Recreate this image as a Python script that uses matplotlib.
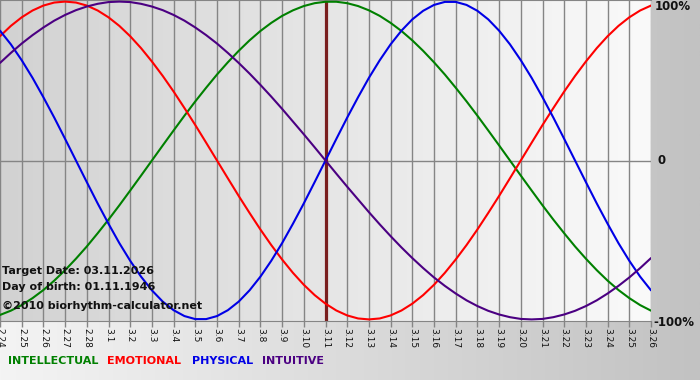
import numpy as np
import matplotlib
matplotlib.use("Agg")
import matplotlib.pyplot as plt
from matplotlib.colors import LinearSegmentedColormap

# ---- data ----
day_labels = ["2.24", "2.25", "2.26", "2.27", "2.28", "3.1", "3.2", "3.3", "3.4", "3.5",
              "3.6", "3.7", "3.8", "3.9", "3.10", "3.11", "3.12", "3.13", "3.14", "3.15",
              "3.16", "3.17", "3.18", "3.19", "3.20", "3.21", "3.22", "3.23", "3.24", "3.25", "3.26"]

# values read every half day (from 2.24 to 3.26), as fraction of 100%
physical = [0.817, 0.731, 0.631, 0.520, 0.398, 0.270, 0.136, 0.000, -0.136, -0.270,
            -0.398, -0.520, -0.631, -0.731, -0.817, -0.888, -0.942, -0.979, -0.998, -0.998,
            -0.979, -0.942, -0.888, -0.817, -0.731, -0.631, -0.520, -0.398, -0.270, -0.136,
            0.000, 0.136, 0.270, 0.398, 0.520, 0.631, 0.731, 0.817, 0.888, 0.942,
            0.979, 0.998, 0.998, 0.979, 0.942, 0.888, 0.817, 0.731, 0.631, 0.520,
            0.398, 0.270, 0.136, 0.000, -0.136, -0.270, -0.398, -0.520, -0.631, -0.731, -0.817]

emotional = [0.782, 0.847, 0.901, 0.944, 0.975, 0.994, 1.000, 0.994, 0.975, 0.944,
             0.901, 0.847, 0.782, 0.707, 0.623, 0.532, 0.434, 0.330, 0.223, 0.112,
             0.000, -0.112, -0.223, -0.330, -0.434, -0.532, -0.623, -0.707, -0.782, -0.847,
             -0.901, -0.944, -0.975, -0.994, -1.000, -0.994, -0.975, -0.944, -0.901, -0.847,
             -0.782, -0.707, -0.623, -0.532, -0.434, -0.330, -0.223, -0.112, 0.000, 0.112,
             0.223, 0.330, 0.434, 0.532, 0.623, 0.707, 0.782, 0.847, 0.901, 0.944, 0.975]

intellectual = [-0.972, -0.945, -0.910, -0.866, -0.815, -0.756, -0.690, -0.618, -0.541, -0.458,
                -0.372, -0.282, -0.189, -0.095, 0.000, 0.095, 0.189, 0.282, 0.372, 0.458,
                0.541, 0.618, 0.690, 0.756, 0.815, 0.866, 0.910, 0.945, 0.972, 0.990,
                0.999, 0.999, 0.990, 0.972, 0.945, 0.910, 0.866, 0.815, 0.756, 0.690,
                0.618, 0.541, 0.458, 0.372, 0.282, 0.189, 0.095, 0.000, -0.095, -0.189,
                -0.282, -0.372, -0.458, -0.541, -0.618, -0.690, -0.756, -0.815, -0.866, -0.910, -0.945]

intuitive = [0.614, 0.677, 0.736, 0.789, 0.837, 0.880, 0.916, 0.946, 0.969, 0.986,
             0.997, 1.000, 0.997, 0.986, 0.969, 0.946, 0.916, 0.880, 0.837, 0.789,
             0.736, 0.677, 0.614, 0.547, 0.476, 0.402, 0.325, 0.245, 0.165, 0.083,
             0.000, -0.083, -0.165, -0.245, -0.325, -0.402, -0.476, -0.547, -0.614, -0.677,
             -0.736, -0.789, -0.837, -0.880, -0.916, -0.946, -0.969, -0.986, -0.997, -1.000,
             -0.997, -0.986, -0.969, -0.946, -0.916, -0.880, -0.837, -0.789, -0.736, -0.677, -0.614]

samples_per_day = 2
target_index = 15
target_text = "Target Date: 03.11.2026"
birth_text = "Day of birth: 01.11.1946"
copyright_text = "\u00a92010 biorhythm-calculator.net"
series_names = ["INTELLECTUAL", "EMOTIONAL", "PHYSICAL", "INTUITIVE"]

# ---- styling ----
W, H = 700, 380
fig = plt.figure(figsize=(W / 100, H / 100), dpi=100)

bg = fig.add_axes([0, 0, 1, 1], zorder=0)
bg.set_axis_off()
cmap_bg = LinearSegmentedColormap.from_list("bg", ["#f4f4f4", "#c2c2c2"])
bg.imshow(np.linspace(0, 1, 256)[None, :], aspect="auto", cmap=cmap_bg,
          extent=[0, 1, 0, 1], transform=bg.transAxes)

px = lambda x: x / W
py = lambda y: 1 - y / H

ax_left, ax_right, ax_top, ax_bot = 0, 651, 0, 321
ax = fig.add_axes([px(ax_left), py(ax_bot), (ax_right - ax_left) / W, (ax_bot - ax_top) / H], zorder=1)

n = len(day_labels)
x = np.arange(n)
ax.set_xlim(0, n - 1)
ax.set_ylim(-1.01, 1.01)

cmap_plot = LinearSegmentedColormap.from_list("pl", ["#d2d2d2", "#e6e6e6", "#fafafa"])
ax.imshow(np.linspace(0, 1, 256)[None, :], aspect="auto", cmap=cmap_plot,
          extent=[0, n - 1, -1.01, 1.01], zorder=0)

for xi in x:
    ax.axvline(xi, color="#858585", lw=1.0, zorder=1)
ax.axhline(0, color="#858585", lw=1.0, zorder=1)

ax.axvline(target_index, color="#7a1f1f", lw=2.3, zorder=2)

colors = {"INTELLECTUAL": "#008000", "EMOTIONAL": "#ff0000",
          "PHYSICAL": "#0000e6", "INTUITIVE": "#4b0082"}
series = {"INTELLECTUAL": intellectual, "EMOTIONAL": emotional,
          "PHYSICAL": physical, "INTUITIVE": intuitive}
for name in series_names:
    vals = series[name]
    xs = np.arange(len(vals)) / samples_per_day
    ax.plot(xs, vals, color=colors[name], lw=1.5, zorder=3, solid_capstyle="round",
            solid_joinstyle="round")

for s in ax.spines.values():
    s.set_visible(False)
ax.spines["bottom"].set_visible(True)
ax.spines["bottom"].set_color("#858585")
ax.spines["top"].set_visible(True)
ax.spines["top"].set_color("#858585")

ax.set_yticks([])
ax.set_xticks(x)
ax.set_xticklabels(day_labels, rotation=-90, fontsize=6.5, color="#111111")
ax.tick_params(axis="x", length=4, width=1, color="#858585", pad=1)

fig.text(px(655), py(7), "100%", fontsize=8.5, fontweight="bold", va="center", ha="left", color="#111111")
fig.text(px(658), py(161), "0", fontsize=8.5, fontweight="bold", va="center", ha="left", color="#111111")
fig.text(px(653), py(322), "-100%", fontsize=8.5, fontweight="bold", va="center", ha="left", color="#111111")

for t, yy in [(target_text, 271), (birth_text, 287), (copyright_text, 306)]:
    fig.text(px(2), py(yy), t, fontsize=8, fontweight="bold", va="center", ha="left",
             color="#111111", zorder=5)

for name, xx in zip(series_names, [8, 107, 192, 262]):
    fig.text(px(xx), py(361), name, fontsize=8, fontweight="bold", va="center", ha="left",
             color=colors[name])

fig.savefig("out.png", dpi=100)
